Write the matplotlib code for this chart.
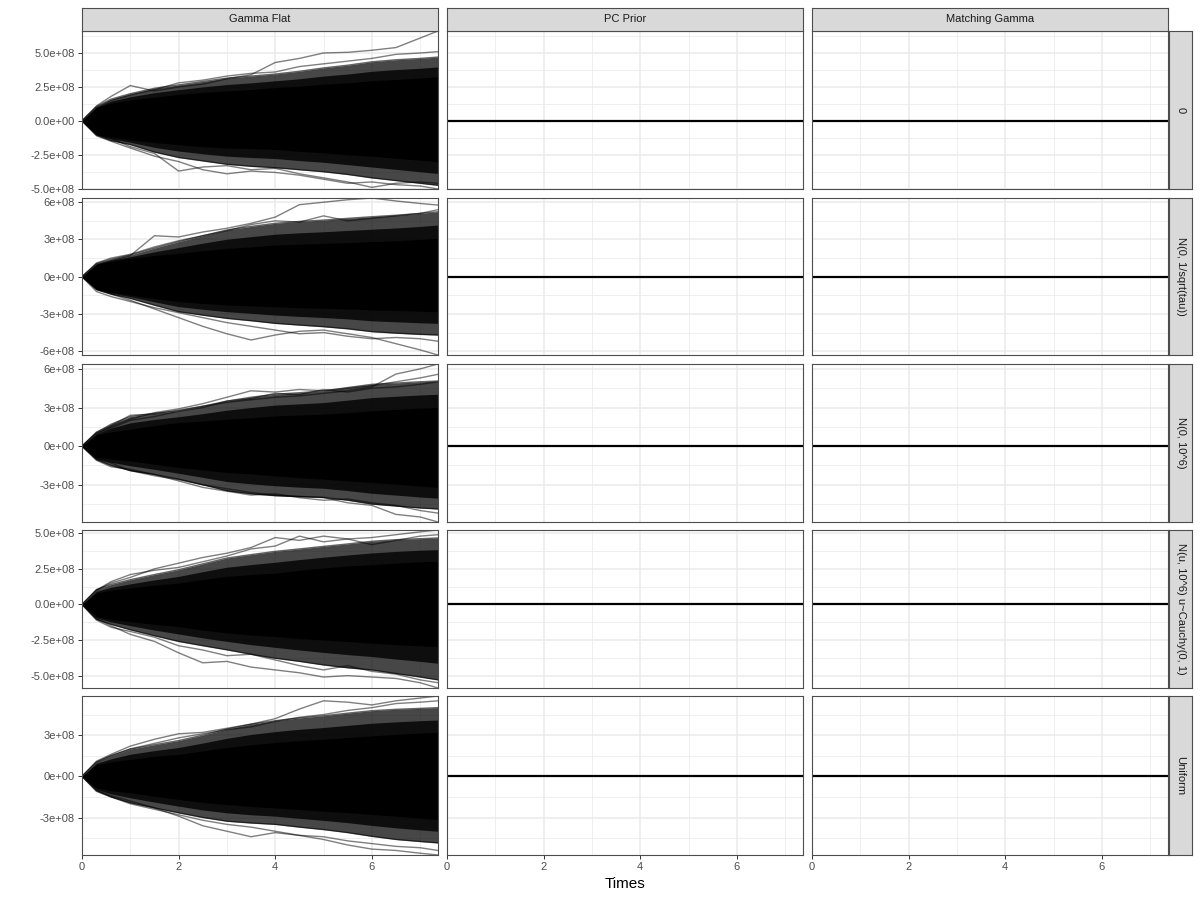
import numpy as np
import matplotlib
matplotlib.use("Agg")
import matplotlib.pyplot as plt

plt.rcParams['font.family'] = ['Liberation Sans', 'DejaVu Sans']

# ---------------- data (values in units of 1e8) ----------------
times = [0, 0.3, 0.6, 1.0, 1.5, 2.0, 2.5, 3.0, 3.5, 4.0, 4.5, 5.0, 5.5, 6.0, 6.5, 7.0, 7.37]

col_labels = ["Gamma Flat", "PC Prior", "Matching Gamma"]
row_labels = ["0", "N(0, 1/sqrt(tau))", "N(0, 10^6)", "N(u, 10^6) u~Cauchy(0, 1)", "Uniform"]

# Row 1 : "0"
core_hi_1 = [0, 1.0, 1.3, 1.55, 1.75, 1.95, 2.1, 2.2, 2.3, 2.45, 2.55, 2.7, 2.8, 2.95, 3.05, 3.15, 3.25]
core_lo_1 = [0, -1.0, -1.2, -1.4, -1.6, -1.75, -1.9, -2.0, -2.05, -2.1, -2.25, -2.35, -2.5, -2.6, -2.75, -2.9, -3.0]
fringe_hi_1 = [0, 1.05, 1.6, 2.0, 2.4, 2.65, 2.9, 3.15, 3.3, 3.45, 3.65, 3.9, 4.1, 4.35, 4.5, 4.6, 4.7]
fringe_lo_1 = [0, -1.05, -1.45, -1.75, -2.3, -2.7, -2.95, -3.2, -3.35, -3.45, -3.6, -3.75, -3.95, -4.2, -4.4, -4.6, -4.75]
traces_1 = [
    [0, 1.1, 1.8, 2.6, 2.2, 2.5, 2.7, 3.1, 3.4, 4.3, 4.6, 5.0, 5.05, 5.2, 5.4, 6.1, 6.62],
    [0, 1.0, 1.5, 1.9, 2.3, 2.8, 3.0, 3.3, 3.5, 3.6, 4.0, 4.2, 4.4, 4.6, 4.9, 5.0, 5.1],
    [0, -1.0, -1.3, -1.9, -2.4, -3.7, -3.4, -3.3, -3.6, -3.5, -3.9, -4.2, -4.5, -4.9, -4.6, -4.5, -4.6],
    [0, -1.1, -1.5, -2.0, -2.6, -3.0, -3.6, -3.9, -3.7, -3.8, -4.0, -4.3, -4.6, -4.5, -4.7, -4.8, -5.02],
]
yticks_1 = [-5.0e8, -2.5e8, 0.0, 2.5e8, 5.0e8]
ylabels_1 = ["-5.0e+08", "-2.5e+08", "0.0e+00", "2.5e+08", "5.0e+08"]

# Row 2 : "N(0, 1/sqrt(tau))"
core_hi_2 = [0, 1.0, 1.25, 1.48, 1.7, 1.88, 2.1, 2.28, 2.4, 2.55, 2.62, 2.68, 2.75, 2.82, 2.9, 3.0, 3.09]
core_lo_2 = [0, -1.0, -1.25, -1.48, -1.75, -2.0, -2.15, -2.28, -2.35, -2.42, -2.5, -2.55, -2.6, -2.68, -2.72, -2.78, -2.82]
fringe_hi_2 = [0, 1.05, 1.4, 1.75, 2.3, 2.82, 3.3, 3.76, 4.05, 4.3, 4.45, 4.56, 4.7, 4.83, 4.95, 5.1, 5.23]
fringe_lo_2 = [0, -1.05, -1.4, -1.75, -2.3, -2.82, -3.1, -3.36, -3.55, -3.76, -3.9, -4.03, -4.2, -4.43, -4.55, -4.65, -4.7]
traces_2 = [
    [0, 1.0, 1.3, 1.7, 3.3, 3.2, 3.6, 3.9, 4.3, 4.8, 5.8, 6.0, 6.2, 6.34, 6.1, 5.9, 5.77],
    [0, 1.1, 1.5, 1.8, 2.4, 2.9, 3.3, 3.7, 4.2, 4.5, 4.4, 4.9, 4.5, 4.7, 4.9, 5.1, 5.4],
    [0, -1.0, -1.4, -1.9, -2.6, -3.3, -4.0, -4.6, -5.1, -4.7, -4.4, -4.3, -4.6, -4.9, -5.4, -5.9, -6.31],
    [0, -1.2, -1.6, -2.0, -2.5, -2.9, -3.3, -3.7, -4.0, -4.3, -4.6, -4.5, -4.8, -5.0, -4.9, -5.0, -5.2],
]
yticks_2 = [-6e8, -3e8, 0.0, 3e8, 6e8]
ylabels_2 = ["-6e+08", "-3e+08", "0e+00", "3e+08", "6e+08"]

# Row 3 : "N(0, 10^6)"
core_hi_3 = [0, 0.9, 1.1, 1.32, 1.6, 1.83, 1.95, 2.09, 2.2, 2.35, 2.42, 2.48, 2.6, 2.74, 2.85, 2.95, 3.0]
core_lo_3 = [0, -0.9, -1.0, -1.14, -1.4, -1.65, -1.85, -2.04, -2.15, -2.3, -2.45, -2.56, -2.7, -2.82, -2.95, -3.1, -3.2]
fringe_hi_3 = [0, 1.05, 1.7, 2.3, 2.55, 2.74, 3.1, 3.5, 3.8, 4.03, 4.15, 4.29, 4.55, 4.8, 4.9, 5.0, 5.06]
fringe_lo_3 = [0, -1.05, -1.5, -1.9, -2.2, -2.56, -3.0, -3.46, -3.7, -3.85, -3.92, -3.98, -4.2, -4.5, -4.65, -4.8, -4.88]
traces_3 = [
    [0, 1.1, 1.6, 2.4, 2.5, 2.8, 3.1, 3.4, 3.6, 3.8, 3.9, 4.1, 4.3, 4.6, 5.6, 6.0, 6.38],
    [0, 1.0, 1.5, 2.1, 2.6, 2.9, 3.3, 3.8, 4.3, 4.2, 4.4, 4.3, 4.5, 4.7, 5.0, 5.3, 5.58],
    [0, 1.0, 1.4, 2.0, 2.3, 2.7, 3.0, 3.5, 3.7, 4.1, 4.0, 4.4, 4.2, 4.5, 4.6, 4.8, 5.0],
    [0, -1.0, -1.3, -1.9, -2.3, -2.6, -3.0, -3.3, -3.6, -3.8, -3.9, -4.0, -4.4, -4.6, -5.3, -5.5, -5.89],
    [0, -1.1, -1.6, -1.8, -2.2, -2.7, -3.2, -3.5, -3.8, -3.7, -4.0, -4.2, -4.1, -4.4, -4.6, -5.0, -5.2],
]
yticks_3 = [-3e8, 0.0, 3e8, 6e8]
ylabels_3 = ["-3e+08", "0e+00", "3e+08", "6e+08"]

# Row 4 : "N(u, 10^6) u~Cauchy(0, 1)"
core_hi_4 = [0, 0.8, 1.0, 1.15, 1.35, 1.5, 1.75, 1.97, 2.1, 2.2, 2.4, 2.56, 2.7, 2.8, 2.9, 3.0, 3.03]
core_lo_4 = [0, -0.85, -1.05, -1.2, -1.4, -1.55, -1.8, -2.0, -2.15, -2.25, -2.4, -2.49, -2.6, -2.72, -2.82, -2.9, -2.96]
fringe_hi_4 = [0, 1.05, 1.4, 1.74, 2.1, 2.44, 2.85, 3.26, 3.5, 3.73, 3.9, 4.08, 4.25, 4.44, 4.55, 4.62, 4.67]
fringe_lo_4 = [0, -1.05, -1.4, -1.78, -2.2, -2.6, -2.9, -3.19, -3.5, -3.78, -4.0, -4.25, -4.45, -4.6, -4.85, -5.1, -5.3]
traces_4 = [
    [0, 1.0, 1.5, 1.9, 2.5, 2.9, 3.3, 3.6, 4.0, 4.7, 4.5, 4.8, 4.6, 4.7, 4.9, 5.1, 5.23],
    [0, 1.0, 1.6, 2.1, 2.4, 2.6, 3.0, 3.4, 3.9, 4.1, 4.8, 4.4, 4.6, 4.2, 4.5, 4.8, 4.9],
    [0, -1.0, -1.5, -2.1, -2.6, -3.4, -4.1, -4.0, -4.4, -4.6, -4.8, -5.1, -5.0, -5.1, -5.2, -5.5, -5.87],
    [0, -1.1, -1.6, -1.9, -2.3, -2.9, -3.2, -3.6, -3.5, -3.9, -4.3, -4.6, -4.3, -4.7, -4.9, -5.3, -5.5],
]
yticks_4 = [-5.0e8, -2.5e8, 0.0, 2.5e8, 5.0e8]
ylabels_4 = ["-5.0e+08", "-2.5e+08", "0.0e+00", "2.5e+08", "5.0e+08"]

# Row 5 : "Uniform"
core_hi_5 = [0, 0.85, 1.05, 1.24, 1.45, 1.6, 1.85, 2.1, 2.3, 2.46, 2.6, 2.7, 2.82, 2.95, 3.05, 3.15, 3.2]
core_lo_5 = [0, -0.85, -1.05, -1.2, -1.45, -1.68, -1.9, -2.05, -2.2, -2.3, -2.42, -2.54, -2.65, -2.78, -2.9, -3.05, -3.15]
fringe_hi_5 = [0, 1.05, 1.5, 1.98, 2.3, 2.6, 3.0, 3.44, 3.8, 4.05, 4.25, 4.41, 4.6, 4.78, 4.88, 4.95, 5.0]
fringe_lo_5 = [0, -1.05, -1.5, -1.93, -2.3, -2.66, -3.0, -3.27, -3.4, -3.5, -3.7, -3.88, -4.1, -4.37, -4.6, -4.75, -4.85]
traces_5 = [
    [0, 1.1, 1.6, 2.2, 2.7, 3.1, 3.2, 3.5, 3.8, 4.2, 4.9, 5.5, 5.4, 5.2, 5.5, 5.7, 5.85],
    [0, 1.0, 1.5, 2.0, 2.4, 2.8, 3.1, 3.4, 3.6, 4.0, 4.3, 4.5, 4.8, 5.0, 5.3, 5.4, 5.5],
    [0, -1.0, -1.4, -1.8, -2.3, -2.9, -3.6, -4.0, -4.4, -4.1, -4.3, -4.6, -5.0, -5.3, -5.4, -5.6, -5.73],
    [0, -1.1, -1.5, -2.0, -2.4, -2.8, -3.2, -3.5, -3.7, -4.0, -4.3, -4.4, -4.7, -4.9, -5.1, -5.2, -5.4],
]
yticks_5 = [-3e8, 0.0, 3e8]
ylabels_5 = ["-3e+08", "0e+00", "3e+08"]

# Other priors (PC Prior, Matching Gamma): collapse to zero
flat_values = [0.0] * len(times)

xticks = [0, 2, 4, 6]
xticklabels = ["0", "2", "4", "6"]

rows_data = [
    (core_hi_1, core_lo_1, fringe_hi_1, fringe_lo_1, traces_1, yticks_1, ylabels_1),
    (core_hi_2, core_lo_2, fringe_hi_2, fringe_lo_2, traces_2, yticks_2, ylabels_2),
    (core_hi_3, core_lo_3, fringe_hi_3, fringe_lo_3, traces_3, yticks_3, ylabels_3),
    (core_hi_4, core_lo_4, fringe_hi_4, fringe_lo_4, traces_4, yticks_4, ylabels_4),
    (core_hi_5, core_lo_5, fringe_hi_5, fringe_lo_5, traces_5, yticks_5, ylabels_5),
]

# ---------------- layout (pixels) ----------------
W, H = 1200, 900
col_px = [(82, 438), (447, 803), (812, 1168)]
row_px = [(31, 189), (198, 355), (364, 522), (530, 688), (696, 855)]
top_strip_px = (8, 31)
right_strip_px = (1169, 1192)

BORDER = "#4D4D4D"
GRID = "#EBEBEB"
TICKC = "#4D4D4D"

fig = plt.figure(figsize=(W / 100, H / 100), dpi=100)


def px_axes(x0, x1, y0, y1):
    return fig.add_axes([x0 / W, 1 - y1 / H, (x1 - x0) / W, (y1 - y0) / H])


scale = 1e8
t = np.array(times)

for r, (chi, clo, fhi, flo, trs, yt, yl) in enumerate(rows_data):
    chi = np.array(chi) * scale
    clo = np.array(clo) * scale
    fhi = np.array(fhi) * scale
    flo = np.array(flo) * scale
    trs = [np.array(tr) * scale for tr in trs]
    allvals = np.concatenate([chi, clo, fhi, flo] + trs)
    ylo, yhi = allvals.min(), allvals.max()
    step = yt[1] - yt[0]
    minors = np.arange(np.floor(ylo / step) * step + step / 2, yhi, step)
    for c in range(3):
        y0, y1 = row_px[r]
        x0, x1 = col_px[c]
        ax = px_axes(x0, x1, y0, y1)
        ax.set_xlim(t[0], t[-1])
        ax.set_ylim(ylo, yhi)
        # grid
        for xv in [1, 3, 5, 7]:
            ax.axvline(xv, color=GRID, lw=0.55, zorder=0)
        for yv in minors:
            ax.axhline(yv, color=GRID, lw=0.55, zorder=0)
        for xv in xticks:
            ax.axvline(xv, color=GRID, lw=1.1, zorder=0)
        for yv in yt:
            ax.axhline(yv, color=GRID, lw=1.1, zorder=0)
        if c == 0:
            mid_hi = (chi + fhi) / 2
            mid_lo = (clo + flo) / 2
            ax.fill_between(t, flo, fhi, color="black", alpha=0.72, lw=0, zorder=2)
            ax.fill_between(t, mid_lo, mid_hi, color="black", alpha=0.8, lw=0, zorder=2)
            ax.fill_between(t, clo, chi, color="black", alpha=1.0, lw=0, zorder=3)
            ax.plot(t, fhi, color="black", alpha=0.6, lw=1.0, zorder=3)
            ax.plot(t, flo, color="black", alpha=0.6, lw=1.0, zorder=3)
            for tr in trs:
                ax.plot(t, tr, color="black", alpha=0.5, lw=1.0, zorder=4)
        else:
            ax.plot(t, np.array(flat_values) * scale, color="black", lw=1.6, zorder=4)
        for s in ax.spines.values():
            s.set_color(BORDER)
            s.set_linewidth(0.8)
            s.set_zorder(5)
        ax.set_xticks(xticks)
        ax.set_yticks(yt)
        ax.tick_params(length=3, width=0.7, color="#333333", labelcolor=TICKC, labelsize=8, pad=2)
        if c == 0:
            ax.set_yticklabels(yl)
        else:
            ax.set_yticklabels([])
            ax.tick_params(axis="y", length=0)
        if r == 4:
            ax.set_xticklabels(xticklabels)
        else:
            ax.set_xticklabels([])
            ax.tick_params(axis="x", length=0)

# top strips
for c in range(3):
    x0, x1 = col_px[c]
    sa = px_axes(x0, x1, top_strip_px[0], top_strip_px[1])
    sa.set_facecolor("#D9D9D9")
    sa.set_xticks([]); sa.set_yticks([])
    for s in sa.spines.values():
        s.set_color(BORDER); s.set_linewidth(0.8)
    sa.text(0.5, 0.5, col_labels[c], ha="center", va="center", fontsize=8, color="#1A1A1A",
            transform=sa.transAxes)

# right strips
for r in range(5):
    y0, y1 = row_px[r]
    sa = px_axes(right_strip_px[0], right_strip_px[1], y0, y1)
    sa.set_facecolor("#D9D9D9")
    sa.set_xticks([]); sa.set_yticks([])
    for s in sa.spines.values():
        s.set_color(BORDER); s.set_linewidth(0.8)
    sa.text(0.5, 0.5, row_labels[r], ha="center", va="center", fontsize=8, color="#1A1A1A",
            rotation=270, transform=sa.transAxes)

fig.text(625 / W, 1 - 884 / H, "Times", ha="center", va="center", fontsize=11, color="black")

fig.savefig("out.png", dpi=100)
